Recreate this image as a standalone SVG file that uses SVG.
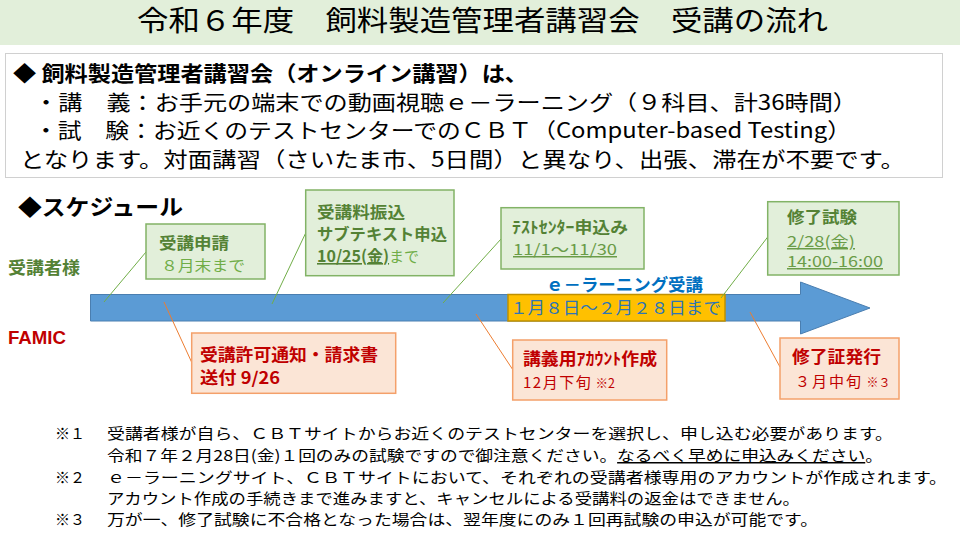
<svg xmlns="http://www.w3.org/2000/svg" width="960" height="540" viewBox="0 0 960 540">
<style>
text{font-family:"Noto Sans CJK JP","Noto Sans",sans-serif;}
.t{font-size:28px;fill:#000;}
.info{font-size:21px;fill:#000;}
.b{font-weight:bold;}
.gb{fill:#E2EFDA;stroke:#82B366;stroke-width:1.5;}
.ob{fill:#FBE5D6;stroke:#F4A06A;stroke-width:1.5;}
.gt{font-size:16px;font-weight:bold;fill:#548235;}
.gl{font-size:15px;fill:#70AD47;}
.gu{font-size:15px;fill:#6A9C48;text-decoration:underline;}
.rt{font-size:16.5px;font-weight:bold;fill:#C00000;}
.rl{font-size:15px;fill:#C00000;}
.fn{font-size:15px;fill:#000;}
.gline{stroke:#70AD47;stroke-width:1;fill:none;}
.oline{stroke:#ED7D31;stroke-width:1;fill:none;}
</style>
<rect x="0" y="0" width="960" height="540" fill="#FFFFFF"/>
<g id="title">
<rect x="0" y="0" width="960" height="45" fill="#E2EFDA"/>
<text class="t" x="137" y="31" textLength="691" lengthAdjust="spacingAndGlyphs">令和６年度　飼料製造管理者講習会　受講の流れ</text>
</g>
<g id="info">
<rect x="5.5" y="53.5" width="937" height="124" fill="#FFFFFF" stroke="#D0D0D0" stroke-width="1"/>
<text class="info b" x="13" y="81" textLength="515" lengthAdjust="spacingAndGlyphs">◆ 飼料製造管理者講習会（オンライン講習）は、</text>
<text class="info" x="34" y="110" textLength="823" lengthAdjust="spacingAndGlyphs">・講　義：お手元の端末での動画視聴ｅ－ラーニング（９科目、計36時間）</text>
<text class="info" x="34" y="138" textLength="817" lengthAdjust="spacingAndGlyphs">・試　験：お近くのテストセンターでのＣＢＴ（Computer-based Testing）</text>
<text class="info" x="20" y="167" textLength="885" lengthAdjust="spacingAndGlyphs">となります。対面講習（さいたま市、5日間）と異なり、出張、滞在が不要です。</text>
</g>
<g id="schedule-labels">
<text x="18" y="215" font-size="22" font-weight="bold" fill="#000" textLength="165" lengthAdjust="spacingAndGlyphs">◆スケジュール</text>
<text x="8" y="274" font-size="17" font-weight="bold" fill="#548235" textLength="72" lengthAdjust="spacingAndGlyphs">受講者様</text>
<text x="8" y="344" font-size="18" font-weight="bold" fill="#C00000" style="font-family:'Liberation Sans',sans-serif" textLength="58" lengthAdjust="spacingAndGlyphs">FAMIC</text>
</g>
<g id="timeline">
<path d="M90.5,294.5 H800.5 V282 L870,308 L800.5,334 V321 H90.5 Z" fill="#5B9BD5" stroke="#4A7EB0" stroke-width="1"/>
<text x="546" y="291" font-size="17" font-weight="bold" fill="#0070C0" textLength="157" lengthAdjust="spacingAndGlyphs">ｅ－ラーニング受講</text>
</g>
<g id="period">
<rect x="508" y="294.5" width="217" height="26.5" fill="#FFC000" stroke="#BF9000" stroke-width="1.5"/>
<text x="510" y="314" font-size="16.5" fill="#2E75B6" textLength="211" lengthAdjust="spacingAndGlyphs">１月８日～２月２８日まで</text>
</g>
<g id="connectors">
<line class="gline" x1="146" y1="252" x2="104" y2="302"/>
<line class="gline" x1="305.7" y1="233" x2="272" y2="304"/>
<line class="gline" x1="501" y1="239" x2="443" y2="303"/>
<line class="gline" x1="767.7" y1="237" x2="721" y2="298"/>
<line class="oline" x1="164" y1="302" x2="192" y2="363"/>
<line class="oline" x1="476" y1="314" x2="513" y2="370"/>
<line class="oline" x1="750" y1="312" x2="780" y2="367"/>
</g>
<g id="node-apply">
<rect class="gb" x="146" y="224" width="119" height="55"/>
<text class="gt" x="159" y="249" textLength="70" lengthAdjust="spacingAndGlyphs">受講申請</text>
<text class="gl" x="161" y="271" font-size="16" textLength="84" lengthAdjust="spacingAndGlyphs">８月末まで</text>
</g>
<g id="node-payment">
<rect class="gb" x="305.7" y="190" width="148.3" height="85.7"/>
<text class="gt" x="317" y="218" textLength="88" lengthAdjust="spacingAndGlyphs">受講料振込</text>
<text class="gt" x="317" y="240" textLength="130" lengthAdjust="spacingAndGlyphs">サブテキスト申込</text>
<text x="317" y="262" font-size="16"><tspan font-weight="bold" fill="#548235" text-decoration="underline">10/25(金)</tspan><tspan fill="#70AD47" font-size="15">まで</tspan></text>
</g>
<g id="node-testcenter">
<rect class="gb" x="501" y="207.7" width="143" height="61.3"/>
<text class="gt" x="512" y="233" font-size="15" textLength="116" lengthAdjust="spacingAndGlyphs">ﾃｽﾄｾﾝﾀｰ申込み</text>
<text class="gu" x="513" y="255" textLength="104" lengthAdjust="spacingAndGlyphs">11/1～11/30</text>
</g>
<g id="node-exam">
<rect class="gb" x="767.7" y="201.7" width="131.3" height="73.3"/>
<text class="gt" x="787" y="223" textLength="70" lengthAdjust="spacingAndGlyphs">修了試験</text>
<text class="gu" x="787" y="247" textLength="68" lengthAdjust="spacingAndGlyphs">2/28(金)</text>
<text class="gu" x="787" y="267" textLength="96" lengthAdjust="spacingAndGlyphs">14:00-16:00</text>
</g>
<g id="node-permit">
<rect class="ob" x="191.7" y="333" width="204" height="60.3"/>
<text class="rt" x="200" y="361" textLength="178" lengthAdjust="spacingAndGlyphs">受講許可通知・請求書</text>
<text class="rt" x="200" y="384" textLength="80" lengthAdjust="spacingAndGlyphs">送付 9/26</text>
</g>
<g id="node-account">
<rect class="ob" x="512.7" y="340" width="154" height="60"/>
<text class="rt" x="523" y="365" textLength="134" lengthAdjust="spacingAndGlyphs">講義用ｱｶｳﾝﾄ作成</text>
<text class="rl" x="523" y="388" font-size="16.5"><tspan letter-spacing="1.5">12月下旬</tspan> <tspan font-size="12.5">※2</tspan></text>
</g>
<g id="node-certificate">
<rect class="ob" x="780" y="338" width="119" height="61"/>
<text class="rt" x="792" y="363" textLength="89" lengthAdjust="spacingAndGlyphs">修了証発行</text>
<text class="rl" x="795" y="387" font-size="16"><tspan letter-spacing="2">３月中旬</tspan> <tspan font-size="12">※３</tspan></text>
</g>
<g id="notes">
<text class="fn" x="55" y="439">※１</text>
<text class="fn" x="107" y="439" textLength="786" lengthAdjust="spacingAndGlyphs">受講者様が自ら、ＣＢＴサイトからお近くのテストセンターを選択し、申し込む必要があります。</text>
<text class="fn" x="107" y="461" textLength="776" lengthAdjust="spacingAndGlyphs">令和７年２月28日(金)１回のみの試験ですので御注意ください。<tspan text-decoration="underline">なるべく早めに申込みください</tspan>。</text>
<text class="fn" x="55" y="483">※２</text>
<text class="fn" x="107" y="483" textLength="840" lengthAdjust="spacingAndGlyphs">ｅ－ラーニングサイト、ＣＢＴサイトにおいて、それぞれの受講者様専用のアカウントが作成されます。</text>
<text class="fn" x="107" y="504" textLength="693" lengthAdjust="spacingAndGlyphs">アカウント作成の手続きまで進みますと、キャンセルによる受講料の返金はできません。</text>
<text class="fn" x="55" y="525">※３</text>
<text class="fn" x="107" y="525" textLength="711" lengthAdjust="spacingAndGlyphs">万が一、修了試験に不合格となった場合は、翌年度にのみ１回再試験の申込が可能です。</text>
</g>
</svg>
